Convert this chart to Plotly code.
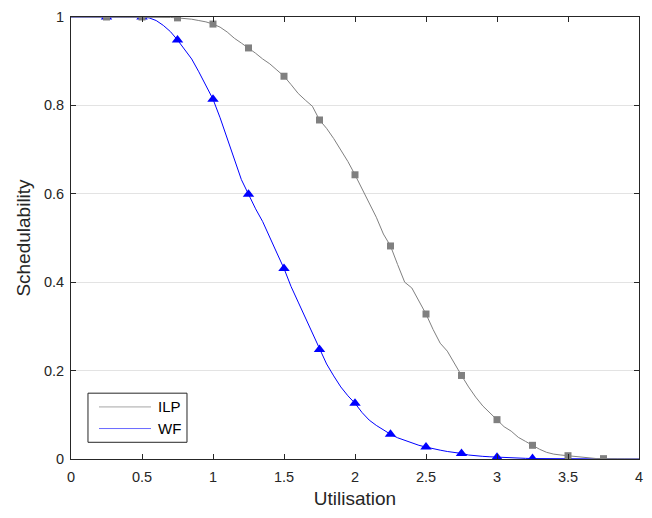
import plotly.graph_objects as go

utilisation = [0.00, 0.05, 0.10, 0.15, 0.20, 0.25, 0.30, 0.35, 0.40, 0.45,
               0.50, 0.55, 0.60, 0.65, 0.70, 0.75, 0.80, 0.85, 0.90, 0.95,
               1.00, 1.05, 1.10, 1.15, 1.20, 1.25, 1.30, 1.35, 1.40, 1.45,
               1.50, 1.55, 1.60, 1.65, 1.70, 1.75, 1.80, 1.85, 1.90, 1.95,
               2.00, 2.05, 2.10, 2.15, 2.20, 2.25, 2.30, 2.35, 2.40, 2.45,
               2.50, 2.55, 2.60, 2.65, 2.70, 2.75, 2.80, 2.85, 2.90, 2.95,
               3.00, 3.05, 3.10, 3.15, 3.20, 3.25, 3.30, 3.35, 3.40, 3.45,
               3.50, 3.55, 3.60, 3.65, 3.70, 3.75, 3.80, 3.85, 3.90, 3.95,
               4.00]

ilp = [1, 1, 1, 1, 1, 1, 1, 1, 1, 1,
       1, 1, 0.9995, 0.999, 0.999, 0.998, 0.997, 0.995, 0.992, 0.989,
       0.984, 0.977, 0.966, 0.952, 0.941, 0.930, 0.918, 0.905, 0.894, 0.880,
       0.866, 0.847, 0.827, 0.812, 0.798, 0.767, 0.748, 0.725, 0.700, 0.673,
       0.643, 0.610, 0.577, 0.547, 0.509, 0.482, 0.440, 0.400, 0.387, 0.356,
       0.328, 0.293, 0.262, 0.244, 0.215, 0.189, 0.163, 0.140, 0.120, 0.104,
       0.089, 0.073, 0.063, 0.049, 0.040, 0.031, 0.022, 0.015, 0.011, 0.009,
       0.0075, 0.005, 0.003, 0.002, 0.001, 0.0008, 0.0004, 0.0002, 0.0001, 0,
       0]

wf = [1, 1, 1, 1, 1, 1, 1, 1, 1, 1,
      1, 0.998, 0.992, 0.981, 0.967, 0.948, 0.926, 0.905, 0.876, 0.846,
      0.814, 0.772, 0.727, 0.680, 0.632, 0.599, 0.566, 0.537, 0.503, 0.466,
      0.431, 0.390, 0.355, 0.320, 0.284, 0.248, 0.215, 0.188, 0.163, 0.143,
      0.126, 0.105, 0.088, 0.076, 0.065, 0.056, 0.048, 0.042, 0.036, 0.031,
      0.027, 0.023, 0.020, 0.017, 0.015, 0.0126, 0.009, 0.007, 0.006, 0.005,
      0.004, 0.003, 0.0025, 0.002, 0.0015, 0.001, 0.0008, 0.0005, 0.0003, 0.0002,
      0.0001, 0, 0, 0, 0, 0, 0, 0, 0, 0,
      0]

marker_x = [0.25, 0.5, 0.75, 1.0, 1.25, 1.5, 1.75, 2.0, 2.25, 2.5, 2.75, 3.0, 3.25, 3.5, 3.75]
ilp_marker_count = 15
wf_marker_count = 14

x_ticks = [0, 0.5, 1, 1.5, 2, 2.5, 3, 3.5, 4]
y_ticks = [0, 0.2, 0.4, 0.6, 0.8, 1]

series_names = ["ILP", "WF"]

GRAY = "#808080"
BLUE = "#0000ff"
FONT = "Liberation Sans, Arial, sans-serif"
INK = "#262626"

def pick(values, xs):
    lookup = {round(u, 2): v for u, v in zip(utilisation, values)}
    return [lookup[round(x, 2)] for x in xs]

fig = go.Figure()

wf_mx = marker_x[:wf_marker_count]
ilp_mx = marker_x[:ilp_marker_count]

fig.add_trace(go.Scatter(x=utilisation, y=wf, mode="lines", name="WF",
                         line=dict(color=BLUE, width=1), showlegend=False))
fig.add_trace(go.Scatter(x=wf_mx, y=pick(wf, wf_mx), mode="markers", name="WF",
                         marker=dict(symbol="triangle-up", size=10, color=BLUE),
                         showlegend=False))
fig.add_trace(go.Scatter(x=utilisation, y=ilp, mode="lines", name="ILP",
                         line=dict(color=GRAY, width=1), showlegend=False))
fig.add_trace(go.Scatter(x=ilp_mx, y=pick(ilp, ilp_mx), mode="markers", name="ILP",
                         marker=dict(symbol="square", size=7, color=GRAY),
                         showlegend=False))

axis_common = dict(
    showline=True, linecolor=INK, linewidth=1, mirror="ticks",
    ticks="inside", ticklen=5, tickcolor=INK, tickwidth=1,
    zeroline=False,
    tickfont=dict(family=FONT, size=14.5, color=INK),
)

fig.update_xaxes(range=[0, 4], tickvals=x_ticks, ticktext=[str(t) for t in x_ticks],
                 showgrid=False, ticklabelstandoff=5,
                 title=dict(text="Utilisation", font=dict(family=FONT, size=19, color=INK), standoff=7),
                 **axis_common)
fig.update_yaxes(range=[0, 1], tickvals=y_ticks, ticktext=[str(t) for t in y_ticks],
                 showgrid=True, gridcolor="#e3e3e3", gridwidth=1, ticklabelstandoff=3,
                 title=dict(text="Schedulability", font=dict(family=FONT, size=19, color=INK), standoff=8),
                 **axis_common)

# Legend box (MATLAB style: lines only) drawn in paper coordinates
legend_box = dict(x0=0.0299, x1=0.2042, y0=0.0378, y1=0.1489)
legend_rows = [0.1178, 0.0689]
legend_colors = ["#a6a6a6", "#6a6aff"]
shapes = [dict(type="rect", xref="paper", yref="paper", **legend_box,
               line=dict(color=INK, width=1), fillcolor="white", layer="above")]
annotations = []
for name, yy, col in zip(series_names, legend_rows, legend_colors):
    shapes.append(dict(type="line", xref="paper", yref="paper",
                       x0=0.0493, x1=0.1408, y0=yy, y1=yy,
                       line=dict(color=col, width=1), layer="above"))
    annotations.append(dict(text=name, xref="paper", yref="paper", x=0.1500, y=yy,
                            xanchor="left", yanchor="middle", showarrow=False,
                            font=dict(family=FONT, size=15, color="#000000")))

fig.update_layout(
    width=652, height=518,
    margin=dict(l=71, r=13, t=9, b=59),
    plot_bgcolor="white", paper_bgcolor="white",
    font=dict(family=FONT, size=15, color=INK),
    showlegend=False,
    shapes=shapes, annotations=annotations,
)

fig.write_html("out.html")
